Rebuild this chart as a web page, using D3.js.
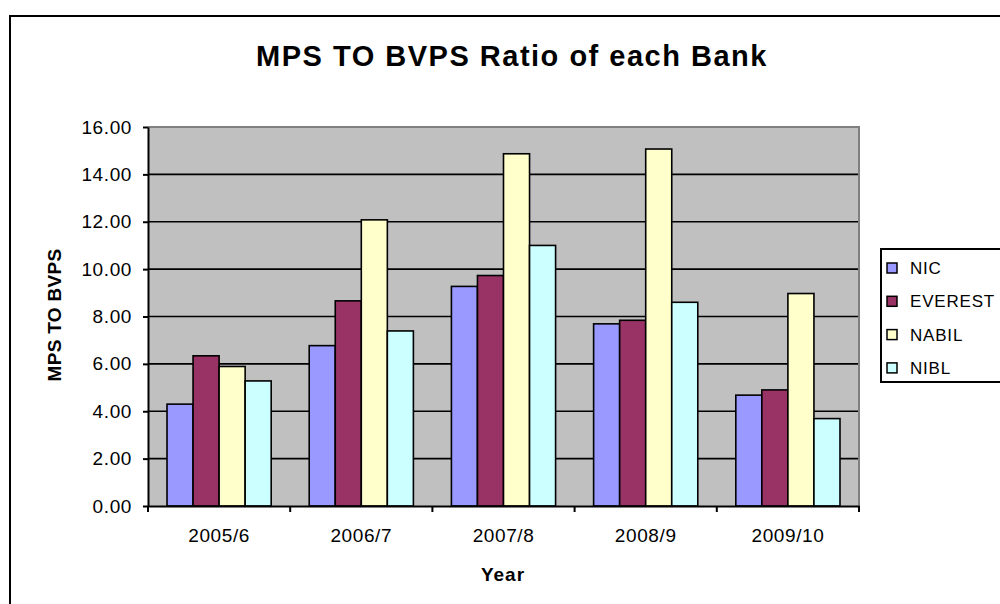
<!DOCTYPE html>
<html>
<head>
<meta charset="utf-8">
<script src="https://cdn.jsdelivr.net/npm/d3@7"></script>
<style>
  body { margin: 0; background: #fff; }
  text { font-family: "Liberation Sans", Arial, sans-serif; fill: #000; }
</style>
</head>
<body>
<div class="vis-holder"></div>
<script>
// categories and series
var years = ["2005/6", "2006/7", "2007/8", "2008/9", "2009/10"];
var banks = ["NIC", "EVEREST", "NABIL", "NIBL"];
var nic     = [4.30, 6.77, 9.27, 7.69, 4.68];
var everest = [6.34, 8.66, 9.73, 7.84, 4.90];
var nabil   = [5.89, 12.08, 14.87, 15.07, 8.97];
var nibl    = [5.28, 7.39, 11.00, 8.60, 3.69];
var yTicks = [0, 2, 4, 6, 8, 10, 12, 14, 16];

var seriesValues = [nic, everest, nabil, nibl];
var colors = ["#9999FF", "#993366", "#FFFFCC", "#CCFFFF"];

// svg size
var width = 1000;
var height = 604;
// plot area
var margin = {
  top: 127,
  bottom: 98,
  left: 148,
  right: 141
};

var svg = d3.select(".vis-holder")
            .append("svg")
            .attr("width", width)
            .attr("height", height);

// outer chart frame (runs off the right and bottom edge)
svg.append("rect")
   .attr("x", 10)
   .attr("y", 16)
   .attr("width", 1100)
   .attr("height", 700)
   .attr("fill", "#fff")
   .attr("stroke", "#000")
   .attr("stroke-width", 2);

// x-scale for the years
var x0 = d3.scaleBand()
           .domain(years)
           .range([margin.left, width - margin.right])
           .paddingInner(0)
           .paddingOuter(0);

// x-scale for the banks inside each year
var x1 = d3.scaleBand()
           .domain(banks)
           .range([0, x0.bandwidth()])
           .paddingInner(0)
           .paddingOuter(0.73);

var yScale = d3.scaleLinear()
               .domain([0, 16])
               .range([height - margin.bottom, margin.top]);

// grey plot background
svg.append("rect")
   .attr("x", margin.left)
   .attr("y", margin.top)
   .attr("width", width - margin.right - margin.left)
   .attr("height", height - margin.bottom - margin.top)
   .attr("fill", "#C0C0C0");

// horizontal gridlines
svg.append("g")
   .selectAll("line")
   .data(yTicks.slice(1, -1))
   .enter()
   .append("line")
   .attr("x1", margin.left)
   .attr("x2", width - margin.right)
   .attr("y1", function(d) { return yScale(d); })
   .attr("y2", function(d) { return yScale(d); })
   .attr("stroke", "#000")
   .attr("stroke-width", 1.6);

// plot border top and right
svg.append("path")
   .attr("d", "M" + margin.left + "," + yScale(16) + "H" + (width - margin.right) + "V" + yScale(0))
   .attr("fill", "none")
   .attr("stroke", "#808080")
   .attr("stroke-width", 2);

// bars
var groups = svg.append("g")
                .selectAll("g")
                .data(years)
                .enter()
                .append("g")
                .attr("transform", function(d) { return "translate(" + x0(d) + ",0)"; });

groups.selectAll("rect")
      .data(function(d, i) {
        return banks.map(function(b, j) { return { bank: b, value: seriesValues[j][i], color: colors[j] }; });
      })
      .enter()
      .append("rect")
      .attr("x", function(d) { return x1(d.bank); })
      .attr("y", function(d) { return yScale(d.value); })
      .attr("width", x1.bandwidth())
      .attr("height", function(d) { return yScale(0) - yScale(d.value); })
      .attr("fill", function(d) { return d.color; })
      .attr("stroke", "#000")
      .attr("stroke-width", 1.6);

// y-axis
var yAxis = svg.append("g")
               .attr("transform", "translate(" + margin.left + ",0)")
               .call(d3.axisLeft(yScale)
                       .tickValues(yTicks)
                       .tickFormat(d3.format(".2f"))
                       .tickSizeInner(5)
                       .tickSizeOuter(0)
                       .tickPadding(11));

// x-axis, ticks at the category boundaries
var xAxis = svg.append("g")
               .attr("transform", "translate(0," + (height - margin.bottom) + ")")
               .call(d3.axisBottom(x0).tickSize(0).tickPadding(23));

svg.append("g")
   .selectAll("line")
   .data(years.concat(["end"]))
   .enter()
   .append("line")
   .attr("x1", function(d, i) { return margin.left + i * x0.step(); })
   .attr("x2", function(d, i) { return margin.left + i * x0.step(); })
   .attr("y1", height - margin.bottom)
   .attr("y2", height - margin.bottom + 6)
   .attr("stroke", "#000")
   .attr("stroke-width", 2);

svg.selectAll(".domain, .tick line")
   .attr("stroke", "#000")
   .attr("stroke-width", 2);

svg.selectAll(".tick text")
   .style("font-size", "19px")
   .style("font-family", "'Liberation Sans', Arial, sans-serif")
   .attr("letter-spacing", "0.6px");

// chart title
svg.append("text")
   .attr("text-anchor", "middle")
   .attr("x", 512)
   .attr("y", 66)
   .style("font-size", "29px")
   .style("font-weight", "bold")
   .attr("letter-spacing", "1.5px")
   .text("MPS TO BVPS Ratio of each Bank");

// x-axis title
svg.append("text")
   .attr("text-anchor", "middle")
   .attr("x", 503)
   .attr("y", 581)
   .style("font-size", "19px")
   .style("font-weight", "bold")
   .attr("letter-spacing", "1px")
   .text("Year");

// y-axis title
svg.append("text")
   .attr("text-anchor", "middle")
   .attr("transform", "translate(61," + 315 + ")rotate(-90)")
   .style("font-size", "19px")
   .style("font-weight", "bold")
   .attr("letter-spacing", "0.3px")
   .text("MPS TO BVPS");

// legend
var legend = svg.append("g");

legend.append("rect")
      .attr("x", 881)
      .attr("y", 249)
      .attr("width", 200)
      .attr("height", 133)
      .attr("fill", "#fff")
      .attr("stroke", "#000")
      .attr("stroke-width", 2);

var items = legend.selectAll("g")
                  .data(banks)
                  .enter()
                  .append("g")
                  .attr("transform", function(d, i) { return "translate(887," + (268 + i * 33.3) + ")"; });

items.append("rect")
     .attr("x", 0)
     .attr("y", -5)
     .attr("width", 10)
     .attr("height", 10)
     .attr("fill", function(d, i) { return colors[i]; })
     .attr("stroke", "#000")
     .attr("stroke-width", 1.5);

items.append("text")
     .attr("x", 23)
     .attr("y", 6)
     .style("font-size", "17px")
     .attr("letter-spacing", "0.8px")
     .text(function(d) { return d; });
</script>
</body>
</html>
